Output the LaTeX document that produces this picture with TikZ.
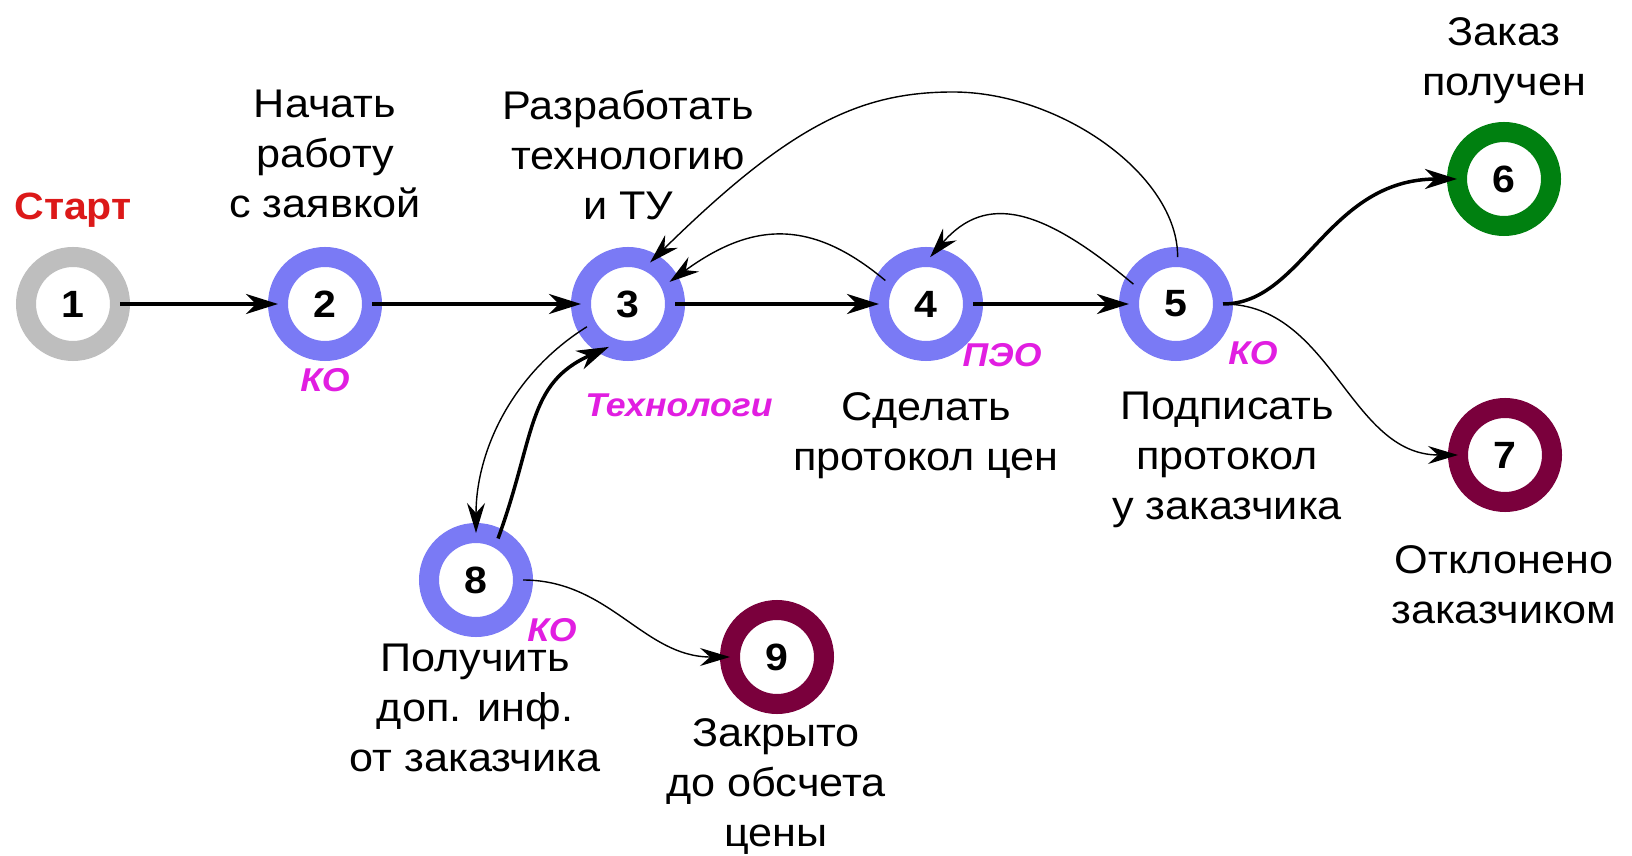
\documentclass[tikz,border=0pt]{standalone}
\usepackage{fontspec}
\setmainfont{Liberation Sans}[FakeStretch=1.08]
\usetikzlibrary{arrows.meta}
\definecolor{ringblue}{RGB}{122,122,245}
\definecolor{ringgray}{RGB}{190,190,190}
\definecolor{ringgreen}{RGB}{0,128,16}
\definecolor{ringmaroon}{RGB}{122,0,60}
\definecolor{deptmag}{RGB}{225,30,225}
\definecolor{startred}{RGB}{220,25,25}
\begin{document}
\begin{tikzpicture}[x=1pt,y=1pt,
  state/.style={circle,draw=#1,line width=20pt,fill=white,minimum size=94pt,inner sep=0pt,outer sep=0pt,font=\bfseries\fontsize{38}{40}\selectfont},
  lbl/.style={align=center,anchor=north,inner sep=0pt,font=\fontsize{40}{50}\selectfont},
  dept/.style={anchor=base,inner sep=0pt,text=deptmag,font=\bfseries\itshape\fontsize{33}{36}\selectfont},
  thickE/.style={line width=3.5pt,-{Stealth[length=32pt,width=20pt,inset=10pt]}},
  thinE/.style={line width=1.4pt,-{Stealth[length=30pt,width=18pt,inset=10pt]}}]
\useasboundingbox[fill=white] (0,0) rectangle (1632,855);

% states
\node[state=ringgray]   (n1) at (73,551)  {1};
\node[state=ringblue]   (n2) at (325,551) {2};
\node[state=ringblue]   (n3) at (628,551) {3};
\node[state=ringblue]   (n4) at (926,551) {4};
\node[state=ringblue]   (n5) at (1176,551) {5};
\node[state=ringgreen]  (n6) at (1504,676) {6};
\node[state=ringmaroon] (n7) at (1505,400) {7};
\node[state=ringblue]   (n8) at (476,275) {8};
\node[state=ringmaroon] (n9) at (777,198) {9};

% labels
\node[anchor=base,inner sep=0pt,text=startred,font=\bfseries\fontsize{38}{40}\selectfont] (start) at (73,635) {Старт};
\node[lbl] (l2) at (325,765) {Начать\\работу\\с заявкой};
\node[lbl] (l3) at (628,765) {Разработать\\технологию\\и ТУ};
\node[lbl] (l4) at (926,463) {Сделать\\протокол цен};
\node[lbl] (l5) at (1227,463) {Подписать\\протокол\\у заказчика};
\node[lbl] (l6) at (1504,838) {Заказ\\получен};
\node[lbl] (l7) at (1504,310) {Отклонено\\заказчиком};
\node[lbl] (l8) at (475,211) {Получить\\доп. инф.\\от заказчика};
\node[lbl] (l9) at (776,137) {Закрыто\\до обсчета\\цены};

% departments
\node[dept] (d2) at (325,463) {КО};
\node[dept] (d3) at (679,438) {Технологи};
\node[dept] (d4) at (1002,488) {ПЭО};
\node[dept] (d5) at (1253,490) {КО};
\node[dept] (d8) at (552,214) {КО};

% connectors
\draw[thickE] (n1) -- (n2);
\draw[thickE] (n2) -- (n3);
\draw[thickE] (n3) -- (n4);
\draw[thickE] (n4) -- (n5);
\draw[thinE] (n4.150) to[out=140,in=36,out distance=97pt,in distance=102pt] (n3.28);
\draw[thinE] (n5.155) to[out=140,in=49,out distance=120pt,in distance=85pt] (n4.85);
\draw[thinE] (n5.88) .. controls (1178,680) and (1060,763) .. (953,763)
   .. controls (860,763) and (790,730) .. (n3.62);
\draw[thinE] (n3.209) to[out=212,in=90,out distance=90pt,in distance=80pt] (n8.90);
\draw[thickE] (n8.62) to[out=70,in=204,out distance=110pt,in distance=90pt] (n3.246);
\draw[thickE] (n5.0) to[out=0,in=180,out distance=80pt,in distance=130pt] (n6.180);
\draw[thinE] (n5.0) to[out=0,in=180] (n7.180);
\draw[thinE] (n8.0) to[out=0,in=180] (n9.180);
\end{tikzpicture}
\end{document}
